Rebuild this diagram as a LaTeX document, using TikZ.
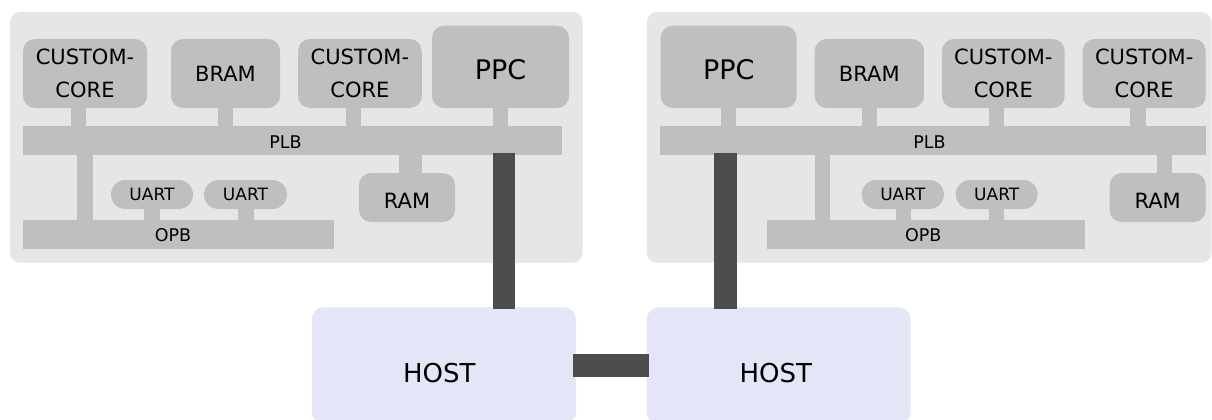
\documentclass[tikz,border=0pt]{standalone}
\usepackage{fontspec}
\setmainfont{DejaVu Sans}
\usetikzlibrary{calc}

\definecolor{boardgray}{HTML}{E6E6E6}
\definecolor{partgray}{HTML}{BFBFBF}
\definecolor{wiregray}{HTML}{4D4D4D}
\definecolor{hostlav}{HTML}{E5E5F8}

\begin{document}
\begin{tikzpicture}[x=1pt,y=-1pt,
  boardbox/.style={fill=boardgray, rounded corners=10pt},
  % a strut at the start of the text sets how far the text sits below the middle
  textdrop/.style={execute at begin node={\rule{0pt}{#1}}},
  corebox/.style={rectangle, fill=partgray, rounded corners=12pt, inner sep=0pt,
    align=center, font=\fontsize{21}{32.6}\selectfont, minimum height=69pt},
  twoline/.style={corebox, textdrop=20pt},
  ppcbox/.style={corebox, font=\fontsize{27}{32}\selectfont, minimum width=137pt,
    minimum height=82.3pt, textdrop=26.1pt},
  rambox/.style={corebox, minimum width=96pt, minimum height=49pt, textdrop=21.3pt},
  pillbox/.style={rectangle, fill=partgray, rounded corners=14.5pt, inner sep=0pt,
    font=\fontsize{17}{20}\selectfont, minimum height=29pt},
  busbar/.style={rectangle, fill=partgray, inner sep=0pt, minimum height=29pt},
  buslabel/.style={font=\fontsize{17.5}{20}\selectfont, inner sep=0pt},
  stubline/.style={draw=partgray, line width=15.4pt},
  linkline/.style={draw=wiregray, line width=22.4pt},
  hostbox/.style={rectangle, fill=hostlav, rounded corners=12pt, inner sep=0pt,
    minimum width=264.3pt, minimum height=116.7pt},
  hosttext/.style={font=\fontsize{26}{30}\selectfont, inner sep=0pt}
]
\useasboundingbox (0,0) rectangle (1212,420);

% ---------- boards ----------
\fill[boardbox] (10,12) rectangle (582.7,262.7);
\fill[boardbox] (647,12) rectangle (1211.6,262.7);

% ---------- left board ----------
\node[twoline, minimum width=124pt]   (cc1L)   at (85,73.5)    {CUSTOM-\\CORE};
\node[corebox, minimum width=109pt]   (bramL)  at (225.5,73.5) {BRAM};
\node[twoline, minimum width=123.7pt] (cc2L)   at (359.9,73.5) {CUSTOM-\\CORE};
\node[ppcbox]                         (ppcL)   at (500.5,66.9) {PPC};
\node[busbar, minimum width=539pt,
  label={[buslabel,xshift=-7pt,yshift=-1.3pt]center:PLB}] (plbL) at (292.5,140.5) {};
\node[busbar, minimum width=311pt,
  label={[buslabel,xshift=-5.5pt,yshift=-0.6pt]center:OPB}] (opbL) at (178.5,234.5) {};
\node[pillbox, minimum width=82pt]    (uart1L) at (152,194.5)   {UART};
\node[pillbox, minimum width=83pt]    (uart2L) at (245.5,194.5) {UART};
\node[rambox]                         (ramL)   at (407,197.5)   {RAM};

% ---------- right board ----------
\node[ppcbox, minimum width=136pt]    (ppcR)   at (728.7,66.9)  {PPC};
\node[corebox, minimum width=109.3pt] (bramR)  at (869.3,73.5)  {BRAM};
\node[twoline, minimum width=122.7pt] (cc1R)   at (1003.3,73.5) {CUSTOM-\\CORE};
\node[twoline, minimum width=123pt]   (cc2R)   at (1144.2,73.5) {CUSTOM-\\CORE};
\node[busbar, minimum width=545.7pt,
  label={[buslabel,xshift=-3.4pt,yshift=-1.3pt]center:PLB}] (plbR) at (932.9,140.5) {};
\node[busbar, minimum width=318pt,
  label={[buslabel,xshift=-2.7pt,yshift=-0.6pt]center:OPB}] (opbR) at (926,234.5) {};
\node[pillbox, minimum width=82.3pt]  (uart1R) at (902.8,194.5) {UART};
\node[pillbox, minimum width=82pt]    (uart2R) at (996.7,194.5) {UART};
\node[rambox]                         (ramR)   at (1157.7,197.5) {RAM};

% ---------- stubs joining the parts to the buses ----------
% left board
\draw[stubline] ($(cc1L.south)+(-6.7,-2)$) -- ($(cc1L.south |- plbL.north)+(-6.7,2)$);
\draw[stubline] ($(bramL.south)+(0,-2)$) -- ($(bramL.south |- plbL.north)+(0,2)$);
\draw[stubline] ($(cc2L.south)+(-6.6,-2)$) -- ($(cc2L.south |- plbL.north)+(-6.6,2)$);
\draw[stubline] ($(ppcL.south)+(-0.2,-2)$) -- ($(ppcL.south |- plbL.north)+(-0.2,2)$);
\draw[stubline, line width=22.7pt] ($(ramL.north)+(3.3,2)$) -- ($(ramL.north |- plbL.south)+(3.3,-2)$);
\draw[stubline, line width=16pt] ($(opbL.west |- plbL.south)+(62,-2)$) -- ($(opbL.north west)+(62,2)$);
\draw[stubline, line width=16pt] ($(uart1L.south)+(0,-2)$) -- ($(uart1L.south |- opbL.north)+(0,2)$);
\draw[stubline, line width=16pt] ($(uart2L.south)+(0.5,-2)$) -- ($(uart2L.south |- opbL.north)+(0.5,2)$);

% right board
\draw[stubline] ($(ppcR.south)+(0,-2)$) -- ($(ppcR.south |- plbR.north)+(0,2)$);
\draw[stubline] ($(bramR.south)+(0,-2)$) -- ($(bramR.south |- plbR.north)+(0,2)$);
\draw[stubline] ($(cc1R.south)+(-6.8,-2)$) -- ($(cc1R.south |- plbR.north)+(-6.8,2)$);
\draw[stubline] ($(cc2R.south)+(-6.4,-2)$) -- ($(cc2R.south |- plbR.north)+(-6.4,2)$);
\draw[stubline, line width=15.6pt] ($(ramR.north)+(6.8,2)$) -- ($(ramR.north |- plbR.south)+(6.8,-2)$);
\draw[stubline, line width=15.7pt] ($(opbR.west |- plbR.south)+(55.8,-2)$) -- ($(opbR.north west)+(55.8,2)$);
\draw[stubline] ($(uart1R.south)+(0.5,-2)$) -- ($(uart1R.south |- opbR.north)+(0.5,2)$);
\draw[stubline] ($(uart2R.south)+(-0.2,-2)$) -- ($(uart2R.south |- opbR.north)+(-0.2,2)$);

% ---------- host computers ----------
\node[hostbox, label={[hosttext,xshift=-4.6pt,yshift=-6.9pt]center:HOST}] (hostL) at (443.9,365.65) {};
\node[hostbox, minimum width=264pt,
  label={[hosttext,xshift=-2.9pt,yshift=-6.9pt]center:HOST}] (hostR) at (778.7,365.65) {};

% ---------- links between the boards and the hosts ----------
\coordinate (tapL) at (503.9,152.7);
\coordinate (tapR) at (725.4,152.7);
\draw[linkline] (tapL) -- ($(tapL |- hostL.north)+(0,2)$);
\draw[linkline] (tapR) -- ($(tapR |- hostR.north)+(0,2)$);
\draw[linkline] ($(hostL.east)+(-3,0)$) -- ($(hostR.west)+(2.6,0)$);
\end{tikzpicture}
\end{document}
